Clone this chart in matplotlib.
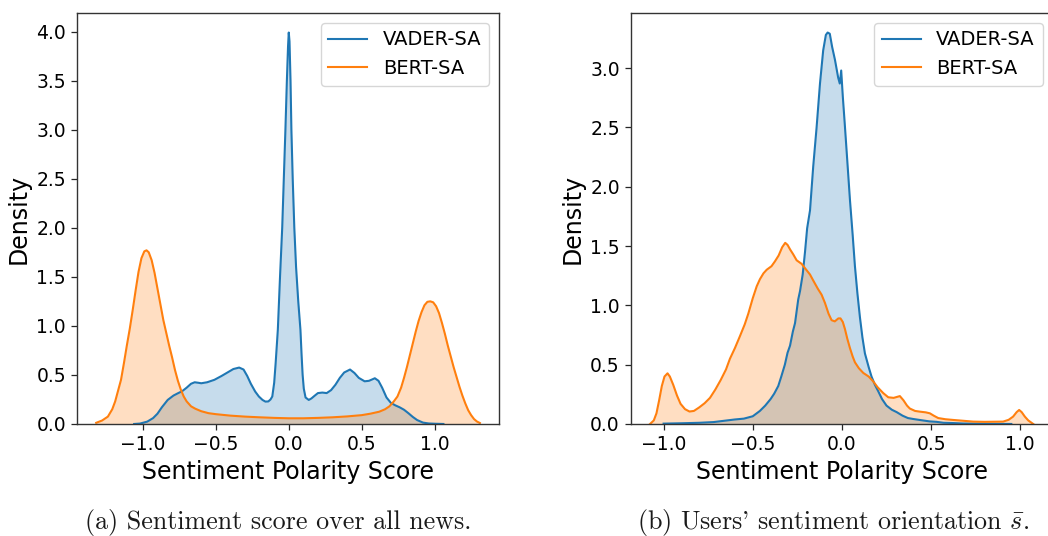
import matplotlib
matplotlib.use("Agg")
import matplotlib.pyplot as plt

plt.rcParams["font.family"] = "DejaVu Sans"
plt.rcParams["mathtext.fontset"] = "cm"

series_labels = ["VADER-SA", "BERT-SA"]
series_colors = ["#1f77b4", "#ff7f0e"]

# (a) sentiment polarity density over all news
news_vader_x = [-1.06, -1.02, -0.97, -0.93, -0.90, -0.87, -0.83, -0.79, -0.76, -0.73,
                -0.70, -0.67, -0.645, -0.62, -0.60, -0.56, -0.51, -0.46, -0.42, -0.38,
                -0.34, -0.31, -0.285, -0.26, -0.23, -0.205, -0.18, -0.16, -0.14, -0.125,
                -0.113, -0.10, -0.09, -0.075, -0.06, -0.045, -0.034, -0.023, -0.013, -0.005,
                0.0, 0.005, 0.012, 0.018, 0.027, 0.038, 0.05, 0.065, 0.08, 0.088,
                0.095, 0.103, 0.115, 0.137, 0.155, 0.175, 0.20, 0.23, 0.26, 0.29,
                0.32, 0.35, 0.38, 0.42, 0.45, 0.48, 0.52, 0.55, 0.59, 0.615,
                0.64, 0.67, 0.70, 0.73, 0.76, 0.79, 0.82, 0.85, 0.88, 0.92,
                0.96, 1.01, 1.06]
news_vader_y = [0.0, 0.004, 0.024, 0.06, 0.105, 0.17, 0.245, 0.29, 0.313, 0.335,
                0.37, 0.41, 0.425, 0.42, 0.415, 0.425, 0.45, 0.49, 0.525, 0.56,
                0.575, 0.555, 0.49, 0.41, 0.33, 0.28, 0.245, 0.228, 0.23, 0.25,
                0.28, 0.42, 0.62, 0.96, 1.5, 2.0, 2.5, 3.0, 3.5, 3.85,
                3.99, 3.9, 3.5, 3.0, 2.5, 2.0, 1.6, 1.25, 0.96, 0.7,
                0.5, 0.36, 0.27, 0.245, 0.26, 0.285, 0.315, 0.32, 0.315, 0.345,
                0.40, 0.47, 0.525, 0.555, 0.52, 0.47, 0.435, 0.44, 0.466, 0.44,
                0.37, 0.27, 0.215, 0.19, 0.17, 0.145, 0.11, 0.072, 0.04, 0.014,
                0.005, 0.002, 0.0]

news_bert_x = [-1.32, -1.28, -1.24, -1.21, -1.19, -1.17, -1.15, -1.13, -1.11, -1.09,
               -1.07, -1.05, -1.03, -1.01, -0.99, -0.975, -0.96, -0.94, -0.92, -0.90,
               -0.88, -0.86, -0.84, -0.82, -0.80, -0.78, -0.76, -0.74, -0.72, -0.70,
               -0.67, -0.64, -0.60, -0.55, -0.50, -0.40, -0.30, -0.20, -0.10, 0.0,
               0.10, 0.20, 0.30, 0.40, 0.50, 0.56, 0.62, 0.66, 0.69, 0.72,
               0.745, 0.77, 0.79, 0.81, 0.83, 0.85, 0.87, 0.89, 0.91, 0.93,
               0.95, 0.97, 0.99, 1.01, 1.03, 1.05, 1.07, 1.09, 1.11, 1.13,
               1.15, 1.17, 1.19, 1.21, 1.23, 1.25, 1.27, 1.29, 1.31]
news_bert_y = [0.012, 0.035, 0.075, 0.15, 0.23, 0.34, 0.45, 0.62, 0.80, 0.97,
               1.16, 1.36, 1.55, 1.69, 1.76, 1.77, 1.75, 1.67, 1.54, 1.38,
               1.22, 1.06, 0.93, 0.80, 0.68, 0.55, 0.44, 0.35, 0.28, 0.23,
               0.18, 0.155, 0.13, 0.11, 0.10, 0.085, 0.075, 0.068, 0.062, 0.058,
               0.058, 0.062, 0.068, 0.077, 0.09, 0.105, 0.125, 0.15, 0.18, 0.23,
               0.28, 0.37, 0.47, 0.58, 0.70, 0.82, 0.94, 1.05, 1.14, 1.21,
               1.245, 1.25, 1.24, 1.20, 1.13, 1.03, 0.92, 0.80, 0.69, 0.58,
               0.48, 0.38, 0.29, 0.21, 0.14, 0.09, 0.05, 0.025, 0.01]

# (b) users' average sentiment orientation
users_vader_x = [-1.0, -0.90, -0.80, -0.72, -0.66, -0.60, -0.55, -0.525, -0.50, -0.46,
                 -0.43, -0.40, -0.38, -0.357, -0.34, -0.32, -0.305, -0.291, -0.275, -0.263,
                 -0.245, -0.235, -0.22, -0.207, -0.195, -0.179, -0.161, -0.142, -0.123, -0.105,
                 -0.09, -0.08, -0.068, -0.055, -0.039, -0.021, -0.012, -0.004, 0.005, 0.015,
                 0.026, 0.045, 0.06, 0.073, 0.087, 0.101, 0.115, 0.129, 0.15, 0.166,
                 0.185, 0.204, 0.225, 0.25, 0.28, 0.307, 0.34, 0.37, 0.40, 0.44,
                 0.49, 0.53, 0.57, 0.62, 0.68, 0.80, 0.95]
users_vader_y = [0.003, 0.006, 0.010, 0.016, 0.027, 0.038, 0.045, 0.055, 0.065, 0.11,
                 0.155, 0.21, 0.255, 0.32, 0.40, 0.50, 0.60, 0.66, 0.78, 0.85,
                 1.05, 1.12, 1.26, 1.45, 1.65, 1.80, 2.17, 2.50, 2.87, 3.15,
                 3.28, 3.30, 3.29, 3.18, 3.07, 2.92, 2.87, 2.98, 2.76, 2.55,
                 2.31, 1.89, 1.60, 1.33, 1.10, 0.90, 0.73, 0.595, 0.48, 0.40,
                 0.33, 0.275, 0.21, 0.155, 0.12, 0.10, 0.07, 0.05, 0.042, 0.033,
                 0.022, 0.018, 0.01, 0.008, 0.004, 0.002, 0.0]

users_bert_x = [-1.076, -1.055, -1.04, -1.025, -1.01, -0.995, -0.978, -0.965, -0.946, -0.925,
                -0.905, -0.88, -0.855, -0.83, -0.80, -0.77, -0.74, -0.71, -0.68, -0.65,
                -0.628, -0.60, -0.572, -0.545, -0.525, -0.50, -0.478, -0.46, -0.44, -0.422,
                -0.395, -0.376, -0.355, -0.335, -0.318, -0.305, -0.29, -0.273, -0.254, -0.226,
                -0.20, -0.179, -0.161, -0.135, -0.114, -0.095, -0.075, -0.058, -0.04, -0.02,
                -0.008, 0.005, 0.017, 0.03, 0.045, 0.06, 0.073, 0.095, 0.12, 0.15,
                0.175, 0.20, 0.232, 0.26, 0.29, 0.325, 0.345, 0.365, 0.381, 0.41,
                0.437, 0.47, 0.493, 0.515, 0.54, 0.58, 0.624, 0.68, 0.736, 0.80,
                0.904, 0.935, 0.96, 0.98, 0.994, 1.008, 1.026, 1.045, 1.073]
users_bert_y = [0.0, 0.03, 0.09, 0.20, 0.32, 0.40, 0.427, 0.40, 0.33, 0.24,
                0.17, 0.125, 0.105, 0.11, 0.14, 0.175, 0.22, 0.29, 0.37, 0.46,
                0.55, 0.64, 0.74, 0.84, 0.93, 1.06, 1.16, 1.22, 1.27, 1.30,
                1.33, 1.37, 1.42, 1.49, 1.527, 1.51, 1.47, 1.43, 1.38, 1.35,
                1.30, 1.26, 1.21, 1.14, 1.09, 1.02, 0.93, 0.875, 0.865, 0.89,
                0.89, 0.86, 0.80, 0.72, 0.64, 0.57, 0.52, 0.47, 0.43, 0.40,
                0.36, 0.31, 0.26, 0.225, 0.22, 0.235, 0.20, 0.155, 0.13, 0.11,
                0.104, 0.098, 0.09, 0.07, 0.05, 0.04, 0.034, 0.027, 0.02, 0.018,
                0.02, 0.035, 0.062, 0.10, 0.118, 0.10, 0.062, 0.03, 0.0]

x_ticks = [-1.0, -0.5, 0.0, 0.5, 1.0]
news_y_ticks = [0.0, 0.5, 1.0, 1.5, 2.0, 2.5, 3.0, 3.5, 4.0]
users_y_ticks = [0.0, 0.5, 1.0, 1.5, 2.0, 2.5, 3.0]

# cmr10 draws the ASCII apostrophe as a closing quote
captions = ["(a) Sentiment score over all news.",
            r"(b) Users' sentiment orientation $\bar{s}$."]

fig = plt.figure(figsize=(10.48, 5.36), dpi=100)
ax_a = fig.add_axes([0.0735, 0.209, 0.4027, 0.7668])
ax_b = fig.add_axes([0.602, 0.209, 0.4022, 0.7668])


def draw_panel(ax, curves, y_ticks):
    for (xs, ys), label, color in zip(curves, series_labels, series_colors):
        ax.plot(xs, ys, color=color, lw=1.5, label=label)
        ax.fill_between(xs, ys, color=color, alpha=0.25, lw=0)
    ax.set_ylim(bottom=0)
    ax.set_xticks(x_ticks)
    ax.set_yticks(y_ticks)
    ax.tick_params(labelsize=13.5, width=0.9, length=4.5, color="0.15")
    for spine in ax.spines.values():
        spine.set_color("0.2")
        spine.set_linewidth(1.0)
    ax.set_xlabel("Sentiment Polarity Score", fontsize=17)
    ax.set_ylabel("Density", fontsize=17)
    ax.legend(loc="upper right", fontsize=14)


draw_panel(ax_a, [(news_vader_x, news_vader_y), (news_bert_x, news_bert_y)], news_y_ticks)
draw_panel(ax_b, [(users_vader_x, users_vader_y), (users_bert_x, users_bert_y)], users_y_ticks)

fig.text(0.2655, 0.013, captions[0], ha="center", va="baseline",
         family="cmr10", fontsize=18.7, color="0.1")
fig.text(0.795, 0.013, captions[1], ha="center", va="baseline",
         family="cmr10", fontsize=18.7, color="0.1")

fig.savefig("out.png", dpi=100)
